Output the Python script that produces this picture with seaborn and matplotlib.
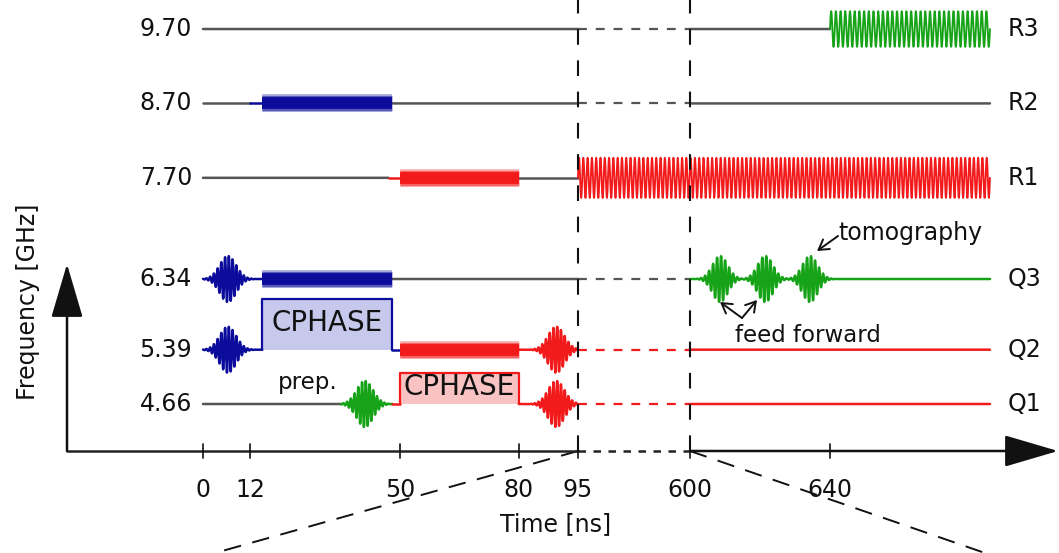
import numpy as np
import matplotlib.pyplot as plt
import seaborn as sns

# ---- data -------------------------------------------------------------
level_freq = [4.66, 5.39, 6.34, 7.70, 8.70, 9.70]
level_name = ["Q1", "Q2", "Q3", "R1", "R2", "R3"]
time_ticks = [0, 12, 50, 80, 95, 600, 640]
t_gap = (95, 600)
t_end = 685.7

# single qubit gaussian pulses (level, centre in ns)
pulse_freq = [6.34, 5.39, 4.66, 5.39, 4.66, 6.34, 6.34, 6.34]
pulse_time = [6.3, 6.3, 41.0, 89.5, 89.5, 608.6, 621.5, 634.3]

# CPHASE flux pulses
cz_freq = [5.39, 4.66]
cz_start = [15, 50]
cz_stop = [48, 80]
cz_top = [6.07, 5.08]

# coupling tones (thick bars)
tone_freq = [8.70, 6.34, 7.70, 5.39]
tone_start = [15, 15, 50, 50]
tone_stop = [48, 48, 80, 80]

# readout tones
ro_freq = [7.70, 9.70]
ro_start = [95, 640]
ro_amp = [0.27, 0.24]
ro_cycles = [96, 34]

BLUE = "#0c0c9c"
RED = "#f21a1a"
GREEN = "#17a317"
GRAY = "#555555"

# thin line pieces on each level: (level, start, stop, colour)
pieces = [
    (9.70, 0, 95, GRAY), (9.70, 600, 640, GRAY),
    (8.70, 0, 12, GRAY), (8.70, 12, 15, BLUE), (8.70, 48, 95, GRAY), (8.70, 600, t_end, GRAY),
    (7.70, 0, 47, GRAY), (7.70, 47, 50, RED), (7.70, 80, 95, GRAY),
    (6.34, -1, 15, BLUE), (6.34, 48, 95, GRAY), (6.34, 600, t_end, GREEN),
    (5.39, -1, 15, BLUE), (5.39, 48, 50, BLUE), (5.39, 80, 95, RED), (5.39, 600, t_end, RED),
    (4.66, 0, 35, GRAY), (4.66, 35, 48, GREEN), (4.66, 48, 50, RED), (4.66, 80, 95, RED),
    (4.66, 600, t_end, RED),
]
gap_color = {9.70: GRAY, 8.70: GRAY, 6.34: GRAY, 5.39: RED, 4.66: RED}
tone_color = [BLUE, BLUE, RED, RED]
cz_edge = [BLUE, RED]
cz_fill = ["#c6c9ec", "#f9c3c3"]
ro_color = [RED, GREEN]


# ---- broken time axis ---------------------------------------------------
def fwd(t):
    t = np.asarray(t, float)
    return np.where(t <= 95, 203 + 3.947 * t,
                    np.where(t < 600, 578 + (t - 95) * 112 / 505, 690 + (t - 600) * 3.5))


def inv(x):
    x = np.asarray(x, float)
    return np.where(x <= 578, (x - 203) / 3.947,
                    np.where(x < 690, 95 + (x - 578) * 505 / 112, 600 + (x - 690) / 3.5))


def fy(row):
    # pixel row -> frequency (for placing decorations)
    return 4.66 + (404 - row) / 74.4


sns.set_theme(style="white")
plt.rcParams["font.family"] = ["DejaVu Sans"]

fig = plt.figure(figsize=(10.59, 5.53), dpi=100)
ax = fig.add_axes([0, 0, 1, 1])
ax.set_xscale("function", functions=(fwd, inv))
ax.set_xlim(float(inv(0)), float(inv(1059)))
ax.set_ylim(fy(553), fy(0))
ax.axis("off")


def trace(t, f, color, lw=1.5, z=3):
    sns.lineplot(x=t, y=f, ax=ax, color=color, linewidth=lw, estimator=None,
                 sort=False, legend=False, zorder=z)


def pulses(t, lvl):
    y = np.zeros_like(t)
    for f, c in zip(pulse_freq, pulse_time):
        if f == lvl and t[0] <= c <= t[-1]:
            sig, per = (2.1, 0.95) if c < 100 else (2.2, 1.15)
            y += 0.31 * np.exp(-0.5 * ((t - c) / sig) ** 2) * np.sin(2 * np.pi * (t - c) / per)
    return y


# thin lines with pulses
for lvl, t0, t1, col in pieces:
    t = np.linspace(max(t0, 0), t1, int((t1 - t0) * 40) + 2)
    trace(t, lvl + pulses(t, lvl), col, lw=1.8)

# dashed across the break
for lvl, col in gap_color.items():
    ax.plot(t_gap, [lvl, lvl], color=col, lw=1.6, ls=(0, (4, 4)), zorder=2)

# thick coupling tones with soft edges
for f, a, b, col in zip(tone_freq, tone_start, tone_stop, tone_color):
    for w, al in [(13, 0.3), (11, 0.55), (8.5, 1.0)]:
        ax.plot([a, b], [f, f], color=col, lw=w, alpha=al, solid_capstyle="butt", zorder=4)

# CPHASE boxes
for f, a, b, top, ec, fc in zip(cz_freq, cz_start, cz_stop, cz_top, cz_edge, cz_fill):
    ax.fill_between([a, b], f, top, color=fc, lw=0, zorder=1)
    trace(np.array([a, a, b, b]), np.array([f, top, top, f]), ec, lw=1.6)
    ax.text((a + b) / 2, (f + top) / 2 + 0.02, "CPHASE", ha="center", va="center",
            fontsize=20, color="#111111", zorder=5)

# readout tones, evenly spaced cycles in drawn width
for f, t0, amp, n, col in zip(ro_freq, ro_start, ro_amp, ro_cycles, ro_color):
    u = np.linspace(0, 1, n * 24)
    t = inv(fwd(t0) + u * (fwd(t_end) - fwd(t0)))
    trace(t, f + amp * np.sin(2 * np.pi * n * u), col, lw=1.35)

# level labels
for f, name in zip(level_freq, level_name):
    ax.text(float(inv(192)), f, f"{f:.2f}", ha="right", va="center", fontsize=17, color="#111111")
    ax.text(float(inv(1008)), f, name, ha="left", va="center", fontsize=17, color="#111111")

# break markers
for tb in t_gap:
    ax.plot([tb, tb], [fy(451), fy(0)], color="#111111", lw=1.5, ls=(0, (7.5, 7.5)), zorder=6)
ax.plot([95, float(inv(215))], [fy(451), fy(553)], color="#111111", lw=1.4, ls=(0, (9, 6)))
ax.plot([600, float(inv(985))], [fy(451), fy(553)], color="#111111", lw=1.4, ls=(0, (9, 6)))

# axes with arrows
fb = fy(451)
tx = float(inv(67))
ax.plot([tx, 95], [fb, fb], color="#222222", lw=1.8)
ax.plot(t_gap, [fb, fb], color="#222222", lw=1.8, ls=(0, (3, 3)))
arrow = dict(arrowstyle="-|>,head_length=1.7,head_width=0.5", mutation_scale=20,
             lw=1.8, color="#111111", shrinkA=0, shrinkB=0)
ax.annotate("", xy=(float(inv(1058)), fb), xytext=(600, fb), arrowprops=arrow)
ax.annotate("", xy=(tx, fy(264)), xytext=(tx, fb), arrowprops=arrow)

for t in time_ticks:
    ax.plot([t, t], [fy(458), fy(444)], color="#111111", lw=1.2)
    ax.text(t, fy(490), str(t), ha="center", va="center", fontsize=17, color="#111111")

ax.text(float(inv(556)), fy(524), "Time [ns]", ha="center", va="center", fontsize=17, color="#111111")
ax.text(float(inv(28)), fy(302), "Frequency [GHz]", ha="center", va="center", rotation=90,
        fontsize=17, color="#111111")

# annotations
ax.text(float(inv(308)), fy(382), "prep.", ha="center", va="center", fontsize=16.5, color="#111111")
small = dict(arrowstyle="->,head_length=0.5,head_width=0.3", mutation_scale=14, lw=1.4,
             color="#111111", shrinkA=0, shrinkB=0)
ax.text(float(inv(838)), fy(233), "tomography", ha="left", va="center", fontsize=17, color="#111111")
ax.annotate("", xy=(float(inv(817)), fy(251)), xytext=(float(inv(838)), fy(236)), arrowprops=small)
ax.text(float(inv(735)), fy(335), "feed forward", ha="left", va="center", fontsize=16.5, color="#111111")
apex = (float(inv(742)), fy(318))
ax.annotate("", xy=(float(inv(720)), fy(302)), xytext=apex, arrowprops=small)
ax.annotate("", xy=(float(inv(757)), fy(300)), xytext=apex, arrowprops=small)

fig.savefig("out.png", dpi=100)
